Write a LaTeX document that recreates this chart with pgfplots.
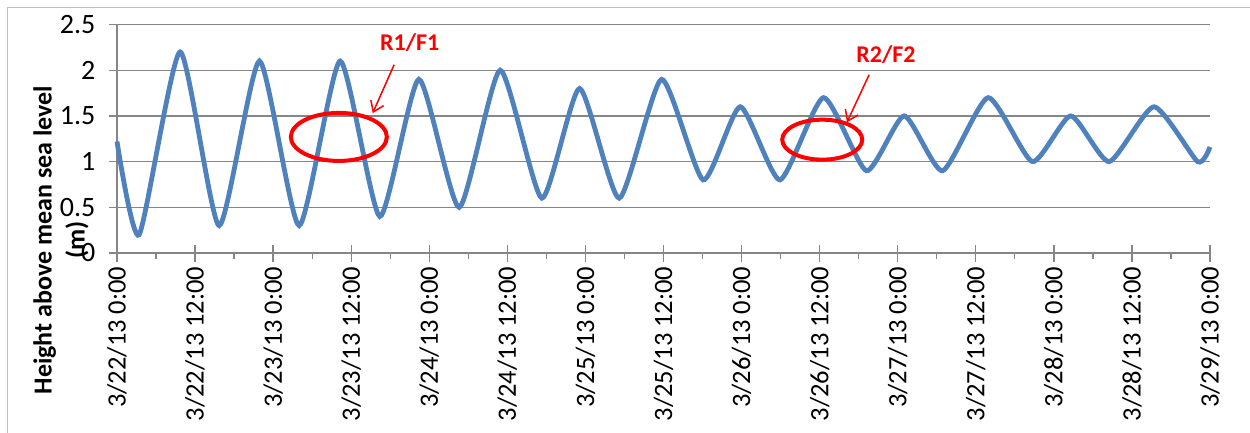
\documentclass[border=0pt]{standalone}
\usepackage{fontspec}
\setmainfont{Carlito}
\usepackage{pgfplots}
\pgfplotsset{compat=1.18}
\usetikzlibrary{arrows.meta}

\definecolor{tideblue}{RGB}{79,129,189}
\definecolor{gridgray}{RGB}{134,134,134}
\definecolor{framegray}{RGB}{190,190,190}

\begin{document}
\begin{tikzpicture}[x=1pt,y=1pt]
\useasboundingbox (0,0) rectangle (1250,432);
% chart frame
\draw[framegray, line width=1pt] (7,-5) -- (7,424) -- (1260,424);

\begin{axis}[
  at={(117pt,179pt)}, anchor=south west,
  scale only axis, width=1093pt, height=228.5pt,
  xmin=0, xmax=168, ymin=0, ymax=2.5,
  clip=false,
  axis lines*=left,
  axis line style={gridgray, line width=1.3pt},
  ymajorgrids,
  major grid style={gridgray, line width=1.3pt},
  tick align=center,
  major tick length=17pt,
  minor tick length=6pt,
  tick style={gridgray, line width=1.3pt},
  minor x tick style={yshift=-3pt},
  minor x tick num=1,
  ytick={0,0.5,1,1.5,2,2.5},
  xtick={0,12,24,36,48,60,72,84,96,108,120,132,144,156,168},
  xticklabels={3/22/13 0:00,3/22/13 12:00,3/23/13 0:00,3/23/13 12:00,
    3/24/13 0:00,3/24/13 12:00,3/25/13 0:00,3/25/13 12:00,
    3/26/13 0:00,3/26/13 12:00,3/27/13 0:00,3/27/13 12:00,
    3/28/13 0:00,3/28/13 12:00,3/29/13 0:00},
  /pgf/number format/assume math mode=true,
  xticklabel style={inner sep=0pt, yshift=-5pt, rotate=90, anchor=east,
    font=\fontsize{26.5}{26.5}\selectfont},
  yticklabel style={inner sep=0pt, xshift=-13pt, anchor=east,
    font=\fontsize{28}{28}\selectfont},
]
\addplot[tideblue, line width=4.8pt, smooth, tension=0.36] coordinates {
  (0,1.22) (3.4,0.2) (9.7,2.2) (15.7,0.3) (21.9,2.1) (28.0,0.3)
  (34.3,2.1) (40.4,0.4) (46.4,1.9) (52.6,0.5) (58.9,2.0) (65.3,0.6)
  (71.1,1.8) (77.2,0.6) (83.7,1.9) (90.1,0.8) (95.8,1.6) (101.9,0.8)
  (108.6,1.7) (115.2,0.9) (121.0,1.5) (126.9,0.9) (133.9,1.7) (140.7,1.0)
  (146.6,1.5) (152.5,1.0) (159.4,1.6) (166.1,1.0) (168,1.16)
};

% annotations
\draw[red, line width=4pt] (axis cs:34.1,1.27) ellipse [x radius=48pt, y radius=24pt];
\draw[red, line width=1.5pt, -{Straight Barb[length=10pt,width=14pt]}]
  (axis cs:42.6,2.06) -- (axis cs:39.3,1.53);
\node[red, font=\bfseries\fontsize{24}{24}\selectfont] at (axis cs:45,2.30) {R1/F1};

\draw[red, line width=4pt] (axis cs:108.4,1.24) ellipse [x radius=40pt, y radius=20pt];
\draw[red, line width=1.5pt, -{Straight Barb[length=10pt,width=14pt]}]
  (axis cs:115.6,1.95) -- (axis cs:112.2,1.43);
\node[red, font=\bfseries\fontsize{24}{24}\selectfont] at (axis cs:118.2,2.17) {R2/F2};
\end{axis}

\node[rotate=90, align=center, font=\bfseries\fontsize{26}{33}\selectfont]
  at (61,192) {Height above mean sea level\\(m)};
\end{tikzpicture}
\end{document}
